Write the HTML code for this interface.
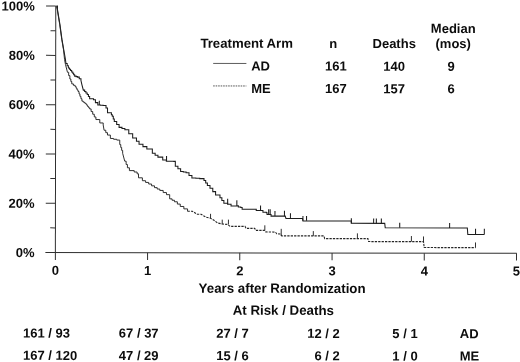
<!DOCTYPE html>
<html><head><meta charset="utf-8"><title>Survival</title>
<style>html,body{margin:0;padding:0;background:#fff}svg{display:block;will-change:transform}text{font-family:"Liberation Sans",Arial,sans-serif;font-weight:bold;font-size:13px;fill:#0c0c0c}</style></head><body>
<svg width="520" height="362" viewBox="0 0 520 362">
<rect width="520" height="362" fill="#fff"/>
<g transform="rotate(0.09 260 181)">
<g stroke="#303030" stroke-width="1" fill="none">
<line x1="55.5" y1="6.4" x2="55.5" y2="260.2"/>
<line x1="45.5" y1="252.9" x2="516.8" y2="252.9"/>
<line x1="45.8" y1="6.4" x2="55.5" y2="6.4"/>
<line x1="50.3" y1="31.0" x2="55.5" y2="31.0"/>
<line x1="45.8" y1="55.7" x2="55.5" y2="55.7"/>
<line x1="50.3" y1="80.3" x2="55.5" y2="80.3"/>
<line x1="45.8" y1="105.0" x2="55.5" y2="105.0"/>
<line x1="50.3" y1="129.7" x2="55.5" y2="129.7"/>
<line x1="45.8" y1="154.3" x2="55.5" y2="154.3"/>
<line x1="50.3" y1="178.9" x2="55.5" y2="178.9"/>
<line x1="45.8" y1="203.6" x2="55.5" y2="203.6"/>
<line x1="50.3" y1="228.2" x2="55.5" y2="228.2"/>
<line x1="147.7" y1="252.9" x2="147.7" y2="260.2"/>
<line x1="239.9" y1="252.9" x2="239.9" y2="260.2"/>
<line x1="332.2" y1="252.9" x2="332.2" y2="260.2"/>
<line x1="424.4" y1="252.9" x2="424.4" y2="260.2"/>
<line x1="516.6" y1="252.9" x2="516.6" y2="260.2"/>
</g>
<g stroke="#1c1c1c" stroke-width="1.05" fill="none" stroke-linejoin="miter">
<polyline points="56.0,6.4 57.2,6.4 57.2,10.0 59.7,25.0 61.7,39.5 63.5,50.0 65.1,58.8 65.8,63.9 67.0,63.9 67.0,66.0 68.2,66.0 68.2,68.2 69.3,68.2 69.3,69.5 70.4,69.5 70.4,70.8 71.5,70.8 71.5,72.2 72.6,72.2 72.6,73.5 73.5,73.5 73.5,75.0 74.5,75.0 74.5,76.4 76.0,76.4 76.0,76.9 77.4,76.9 77.4,77.4 79.1,77.4 79.1,79.1 80.8,79.1 80.8,80.8 81.8,85.1 83.2,90.4 84.5,90.4 84.5,91.8 85.8,91.8 85.8,93.3 87.1,93.3 87.1,94.7 88.3,94.7 88.3,96.8 89.5,96.8 89.5,99.0 93.4,99.0 93.4,100.0 95.3,100.0 95.3,102.9 97.7,102.9 97.7,105.3 100.3,105.3 100.3,105.5 103.0,105.5 103.0,105.8 105.9,105.8 105.9,108.2 107.4,108.2 107.4,113.0 111.3,113.0 111.3,115.0 112.2,115.0 112.2,116.5 113.2,116.5 113.2,119.2 114.2,119.2 114.2,121.8 116.6,121.8 116.6,124.7 119.0,124.7 119.0,127.6 121.9,127.6 121.9,128.8 124.8,128.8 124.8,130.0 128.7,130.0 128.7,133.9 132.6,133.9 132.6,138.2 136.4,138.2 136.4,141.5 139.0,141.5 139.0,144.4 142.9,144.4 142.9,146.8 146.8,146.8 146.8,149.2 150.1,149.2 152.3,149.2 152.3,153.5 155.1,153.5 155.1,155.4 157.9,155.4 157.9,157.3 162.7,157.3 162.7,160.2 166.3,160.2 166.3,161.3 170.1,161.3 170.1,161.4 173.8,161.4 173.8,161.5 175.3,161.5 175.3,166.3 177.9,166.3 177.9,168.9 180.6,168.9 180.6,171.6 183.3,171.6 183.3,172.2 186.1,172.2 186.1,172.9 189.0,172.9 189.0,175.6 191.9,175.6 191.9,178.2 195.8,178.2 195.8,178.4 199.7,178.4 199.7,178.7 204.0,178.7 204.0,180.6 205.7,180.6 205.7,183.1 207.4,183.1 207.4,185.5 210.0,185.5 210.0,188.4 212.8,188.4 212.8,191.7 215.6,191.7 215.6,195.0 220.0,195.0 220.0,197.9 221.9,197.9 221.9,200.6 223.9,200.6 223.9,203.2 227.7,203.2 227.7,204.2 231.1,204.2 231.1,206.1 234.0,206.1 234.0,206.0 236.9,206.0 236.9,205.9 238.4,205.9 238.4,207.1 240.8,207.1 240.8,207.6 242.2,207.6 242.2,209.3 254.8,209.3 256.3,209.3 256.3,210.5 260.6,210.5 263.0,210.5 263.0,212.2 266.4,212.2 266.4,212.8 267.1,212.8 267.1,214.4 269.9,214.4 271.1,214.4 271.1,216.1 285.3,216.1 286.0,218.4 302.6,218.4 303.0,220.8 351.4,220.8 351.4,223.2 384.8,223.2 385.3,227.6 467.4,227.6 467.9,234.2 484.4,234.2"/>
<line x1="99.2" y1="105.3" x2="99.2" y2="101"/>
<line x1="166.5" y1="161.2" x2="166.5" y2="156.2"/>
<line x1="227.7" y1="204.2" x2="227.7" y2="198.9"/>
<line x1="236.9" y1="205.8" x2="236.9" y2="200.3"/>
<line x1="260.6" y1="210.5" x2="260.6" y2="205.5"/>
<line x1="268.7" y1="214.4" x2="268.7" y2="209.2"/>
<line x1="270.2" y1="214.8" x2="270.2" y2="209.2"/>
<line x1="275" y1="216.1" x2="275" y2="211.1"/>
<line x1="284.5" y1="216.1" x2="284.5" y2="210.8"/>
<line x1="290.5" y1="218.4" x2="290.5" y2="213.1"/>
<line x1="303" y1="220.8" x2="303" y2="216"/>
<line x1="306.6" y1="220.8" x2="306.6" y2="216"/>
<line x1="351.4" y1="223.2" x2="351.4" y2="218.2"/>
<line x1="373.7" y1="223.2" x2="373.7" y2="218.2"/>
<line x1="376.4" y1="223.2" x2="376.4" y2="218.2"/>
<line x1="381.4" y1="223.2" x2="381.4" y2="218.2"/>
<line x1="399.8" y1="227.6" x2="399.8" y2="222.6"/>
<line x1="449.7" y1="227.6" x2="449.7" y2="222.7"/>
<line x1="475.6" y1="234.2" x2="475.6" y2="228.5"/>
<line x1="484.4" y1="234.2" x2="484.4" y2="228.5"/>
<line x1="213" y1="63.5" x2="246.2" y2="63.5" stroke-width="0.8" stroke="#333"/>
</g>
<g stroke="#262626" stroke-width="0.95" fill="none" stroke-linejoin="miter">
<polyline points="56.0,6.4 57.0,10.0 59.5,25.0 61.5,39.5 63.3,50.0 64.4,60.0 65.3,64.8 67.3,72.6 68.5,72.6 68.5,75.9 69.7,75.9 69.7,79.3 70.7,79.3 70.7,81.8 71.6,81.8 71.6,84.2 73.3,84.2 73.3,85.6 75.0,85.6 75.0,86.9 76.0,86.9 76.0,88.5 76.9,88.5 76.9,90.2 77.9,90.2 77.9,91.8 78.9,91.8 78.9,94.2 79.8,94.2 79.8,96.6 80.8,96.6 80.8,99.0 81.8,99.0 81.8,101.4 83.1,101.4 83.1,102.4 84.3,102.4 84.3,103.3 85.6,103.3 85.6,104.3 86.6,104.3 86.6,105.5 87.5,105.5 87.5,106.8 88.5,106.8 88.5,108.0 89.5,108.0 89.5,109.2 91.0,109.2 91.0,111.8 92.6,111.8 92.6,114.5 94.2,114.5 94.2,117.2 95.8,117.2 95.8,119.8 99.7,119.8 99.7,123.2 103.1,123.2 103.1,125.2 104.0,130.5 105.7,130.5 105.7,132.9 107.4,132.9 107.4,135.3 110.3,135.3 110.3,138.7 113.5,138.7 113.5,139.5 116.7,139.5 116.7,140.3 119.7,140.3 119.7,144.8 120.7,144.8 120.7,147.7 121.6,147.7 121.6,150.6 122.6,150.6 122.6,153.5 124.7,161.4 126.1,161.4 126.1,164.7 127.4,164.7 127.4,168.0 129.4,168.0 129.4,170.8 134.2,170.8 134.2,172.2 137.1,172.2 137.1,174.0 138.5,174.0 138.5,178.0 142.4,178.0 142.4,180.9 145.6,180.9 145.6,182.6 148.7,182.6 148.7,184.2 151.6,184.2 151.6,186.0 154.5,186.0 154.5,187.8 157.2,187.8 157.2,189.2 159.8,189.2 159.8,190.6 163.2,190.6 163.2,192.7 166.5,192.7 166.5,194.8 169.7,194.8 169.7,199.0 172.1,199.0 172.1,200.4 174.5,200.4 174.5,201.9 177.4,201.9 177.4,204.2 180.3,204.2 180.3,206.6 183.9,206.6 183.9,209.0 187.6,209.0 187.6,211.4"/>
<polyline points="187.6,211.4 192.4,211.4 194.8,212.8 197.2,214.3 201.1,214.3 203.5,215.8 205.9,217.2 210.3,218.2 213.7,220.1 217.6,223.0 221.9,224.0 227.7,224.5 230.2,226.4 245.1,226.4 246.1,228.4 254.8,228.4 255.8,230.4 264.6,230.4 265.8,231.9 275.5,232.1 276.9,233.8 280.8,234.0 281.8,235.8 324.0,235.8 324.8,238.5 368.0,238.5 368.7,241.4 423.6,241.4 424.3,247.3 475.6,247.3" stroke-dasharray="2.3,1.1" stroke-width="1.1"/>
<line x1="210.6" y1="218.2" x2="210.6" y2="213.9"/>
<line x1="222.3" y1="224" x2="222.3" y2="219.7"/>
<line x1="228.5" y1="224.5" x2="228.5" y2="219.7"/>
<line x1="264.9" y1="230.5" x2="264.9" y2="225.3"/>
<line x1="281.3" y1="235.8" x2="281.3" y2="228.8"/>
<line x1="313.4" y1="235.8" x2="313.4" y2="231"/>
<line x1="357.5" y1="238.5" x2="357.5" y2="233.2"/>
<line x1="411.5" y1="241.4" x2="411.5" y2="235.8"/>
<line x1="423.6" y1="241.4" x2="423.6" y2="236.2"/>
<line x1="475.6" y1="247.3" x2="475.6" y2="242.1"/>
<line x1="213" y1="86" x2="246.2" y2="86" stroke-dasharray="1.6,0.9" stroke="#444" stroke-width="0.9"/>
</g>
<text x="34.6" y="10.9" text-anchor="end">100%</text>
<text x="34.6" y="60.2" text-anchor="end">80%</text>
<text x="34.6" y="109.5" text-anchor="end">60%</text>
<text x="34.6" y="158.8" text-anchor="end">40%</text>
<text x="34.6" y="208.1" text-anchor="end">20%</text>
<text x="34.6" y="257.4" text-anchor="end">0%</text>
<text x="55.5" y="275.2" text-anchor="middle">0</text>
<text x="147.7" y="275.2" text-anchor="middle">1</text>
<text x="239.9" y="275.2" text-anchor="middle">2</text>
<text x="332.2" y="275.2" text-anchor="middle">3</text>
<text x="424.4" y="275.2" text-anchor="middle">4</text>
<text x="516.6" y="275.2" text-anchor="middle">5</text>
<text x="282.3" y="292.8" text-anchor="middle" style="font-size:13.3px">Years after Randomization</text>
<text x="283.5" y="314.8" text-anchor="middle" style="font-size:13.3px">At Risk / Deaths</text>
<text x="23.3" y="337.8">161 / 93</text>
<text x="119.1" y="337.8">67 / 37</text>
<text x="216.5" y="337.8">27 / 7</text>
<text x="340" y="337.8" text-anchor="end">12 / 2</text>
<text x="392.6" y="337.8">5 / 1</text>
<text x="460" y="337.8">AD</text>
<text x="23.3" y="360.2">167 / 120</text>
<text x="119.1" y="360.2">47 / 29</text>
<text x="216.5" y="360.2">15 / 6</text>
<text x="340" y="360.2" text-anchor="end">6 / 2</text>
<text x="392.6" y="360.2">1 / 0</text>
<text x="460" y="360.2">ME</text>
<text x="200.2" y="47.8" style="font-size:13.2px">Treatment Arm</text>
<text x="333" y="47.8" text-anchor="middle">n</text>
<text x="394" y="47.8" text-anchor="middle">Deaths</text>
<text x="453" y="32.6" text-anchor="middle">Median</text>
<text x="453" y="47.8" text-anchor="middle">(mos)</text>
<text x="251" y="70.5">AD</text>
<text x="335.7" y="70.5" text-anchor="middle">161</text>
<text x="394" y="70.5" text-anchor="middle">140</text>
<text x="451" y="70.5" text-anchor="middle">9</text>
<text x="251" y="93">ME</text>
<text x="335.7" y="93" text-anchor="middle">167</text>
<text x="394" y="93" text-anchor="middle">157</text>
<text x="451" y="93" text-anchor="middle">6</text>
</g>
</svg></body></html>
